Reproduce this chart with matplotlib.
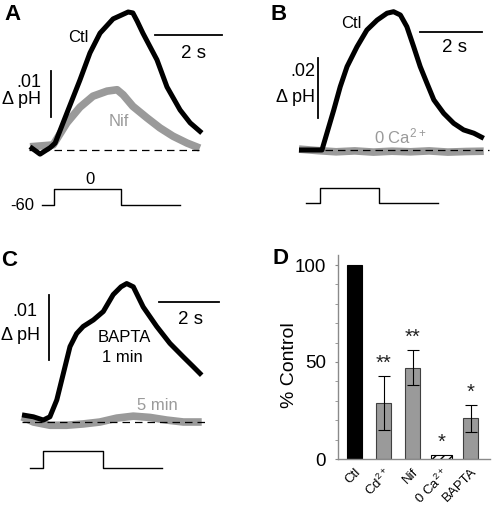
import numpy as np
import matplotlib
matplotlib.use('Agg')
import matplotlib.pyplot as plt

plt.rcParams['font.family'] = ['Liberation Sans', 'DejaVu Sans']
plt.rcParams['mathtext.fontset'] = 'custom'
plt.rcParams['mathtext.rm'] = 'Liberation Sans'
plt.rcParams['mathtext.default'] = 'regular'
plt.rcParams['hatch.linewidth'] = 1.0

# ---- data ----
# A: control vs nifedipine (time in s, delta pH)
a_ctl_t = [0, 0.30, 0.60, 0.75, 1.10, 1.49, 1.79, 2.09, 2.48, 2.75, 2.93, 3.07, 3.20, 3.37, 3.79,
           4.09, 4.48, 4.78, 5.13]
a_ctl = [0.0007, -0.0009, 0.0005, 0.0015, 0.0080, 0.0152, 0.0211, 0.0254, 0.0285, 0.0294, 0.0300,
         0.0298, 0.0280, 0.0254, 0.0196, 0.0137, 0.0087, 0.0059, 0.0037]
a_nif_t = [0, 0.69, 1.10, 1.49, 1.88, 2.30, 2.60, 2.78, 3.07, 3.49, 3.88, 4.27, 4.69, 5.07]
a_nif = [0.0007, 0.0011, 0.0059, 0.0093, 0.0117, 0.0128, 0.0131, 0.0120, 0.0095, 0.0070,
         0.0048, 0.0030, 0.0015, 0.0004]
a_step = [0.36, 0.72, 2.72, 4.48]   # start, depolarize, repolarize, end (s)

# B: control vs 0 Ca2+
b_ctl_t = [0, 0.74, 0.90, 1.12, 1.33, 1.55, 1.87, 2.19, 2.52, 2.84, 3.05, 3.27, 3.48, 3.70, 3.91,
           4.13, 4.35, 4.67, 4.99, 5.31, 5.64, 5.96]
b_ctl = [0, 0, 0.0056, 0.0133, 0.0211, 0.0278, 0.0344, 0.0400, 0.0433, 0.0456, 0.0461, 0.0450,
         0.0411, 0.0344, 0.0278, 0.0222, 0.0167, 0.0122, 0.0089, 0.0067, 0.0056, 0.0039]
b_ca0_t = [0, 0.6, 1.2, 1.8, 2.4, 3.0, 3.6, 4.2, 4.8, 5.4, 5.96]
b_ca0 = [0.0003, -0.0002, -0.0006, -0.0003, -0.0007, -0.0004, -0.0006, -0.0003, -0.0007, -0.0005, -0.0004]
b_step = [0.23, 0.68, 2.58, 4.48]

# C: BAPTA 1 min vs 5 min
c_1_t = [0, 0.38, 0.71, 0.93, 1.16, 1.38, 1.60, 1.82, 2.04, 2.38, 2.71, 3.04, 3.30, 3.49, 3.71,
         4.04, 4.49, 4.93, 5.38, 5.71, 5.99]
c_1 = [0.0011, 0.0008, 0.0003, 0.0008, 0.0034, 0.0075, 0.0116, 0.0136, 0.0147, 0.0157, 0.0170,
       0.0196, 0.0208, 0.0213, 0.0208, 0.0177, 0.0147, 0.0121, 0.0100, 0.0085, 0.0072]
c_5_t = [0, 0.38, 0.93, 1.49, 2.04, 2.60, 3.16, 3.71, 4.27, 4.82, 5.38, 5.99]
c_5 = [0.0008, 0.0, -0.0005, -0.0005, -0.0003, 0.0, 0.0006, 0.0009, 0.0007, 0.0003, 0.0, 0.0]
c_step = [0.27, 0.70, 2.70, 4.67]

hold_mv, test_mv = -60, 0

# D: summary, % of control
d_labels = ['Ctl', 'Cd$^{2+}$', 'Nif', '0 Ca$^{2+}$', 'BAPTA']
d_mean = [100, 29, 47, 2, 21]
d_err = [0, 14, 9, 0, 7]
d_stars = ['', '**', '**', '*', '*']

W, H = 494, 508
fig = plt.figure(figsize=(W / 100, H / 100), dpi=100)
GRAY = '#9a9a9a'


def trace_axes(box, t0_px, px_per_s, base_px, px_per_01, m60_px, zero_px):
    '''axes in pixel box; x in s, y in delta pH, twin y in mV'''
    l, t, r, b = box
    ax = fig.add_axes([l / W, 1 - b / H, (r - l) / W, (b - t) / H])
    ax.set_xlim((l - t0_px) / px_per_s, (r - t0_px) / px_per_s)
    ax.set_ylim((base_px - b) / px_per_01 * 0.01, (base_px - t) / px_per_01 * 0.01)
    ax.axis('off')
    axv = ax.twinx()
    k = 60 / (m60_px - zero_px)
    axv.set_ylim(-60 + (m60_px - b) * k, -60 + (m60_px - t) * k)
    axv.axis('off')
    return ax, axv


def step(axv, st):
    axv.plot([st[0], st[1], st[1], st[2], st[2], st[3]],
             [hold_mv, hold_mv, test_mv, test_mv, hold_mv, hold_mv], color='k', lw=1)


def label(x, y, s, **kw):
    kw.setdefault('ha', 'center')
    kw.setdefault('va', 'center')
    kw.setdefault('fontsize', 12)
    fig.text(x / W, 1 - y / H, s, **kw)


def scalebars(ax, x2s, y2s, xv, y0, y1):
    ax.plot([x2s, x2s + 2], [y2s, y2s], color='k', lw=1.3)
    ax.plot([xv, xv], [y0, y1], color='k', lw=1.3)


dash = dict(color='k', lw=0.9, linestyle=(0, (6, 4)), zorder=5)
tr_black = dict(color='k', lw=3.6, solid_capstyle='butt', solid_joinstyle='round')
tr_gray = dict(color=GRAY, lw=5.5, solid_capstyle='butt', solid_joinstyle='round')

# ---- A ----
ax, axv = trace_axes((0, 0, 247, 235), 30, 33.5, 150, 46, 205, 189)
ax.plot(a_nif_t, a_nif, **tr_gray)
ax.plot(a_ctl_t, a_ctl, **tr_black)
ax.plot([-0.03, 5.07], [0, 0], **dash)
scalebars(ax, 3.73, 0.025, 0.63, 0.0072, 0.0172)
step(axv, a_step)
label(12, 14, 'A', fontsize=16, fontweight='bold')
label(78, 38, 'Ctl')
label(119, 122, 'Nif', color=GRAY)
label(193, 53, '2 s', fontsize=13.5)
label(41, 83, '.01', ha='right', fontsize=13)
label(41, 100, '\u0394 pH', ha='right', fontsize=13)
label(34, 206, '-60', ha='right')
label(90, 180, '0')

# ---- B ----
ax, axv = trace_axes((247, 0, 494, 235), 299, 31, 150, 30, 203, 188)
ax.plot(b_ca0_t, b_ca0, **tr_gray)
ax.plot(b_ctl_t, b_ctl, **tr_black)
ax.plot([0.03, 6.13], [0, 0], **dash)
scalebars(ax, 3.9, 0.0394, 0.61, 0.0107, 0.0307)
step(axv, b_step)
label(279, 14, 'B', fontsize=16, fontweight='bold')
label(351, 23, 'Ctl')
label(454, 48, '2 s', fontsize=13.5)
label(315, 71, '.02', ha='right', fontsize=13)
label(315, 97, '\u0394 pH', ha='right', fontsize=13)
label(400, 136, '0 Ca$^{2+}$', color=GRAY)

# ---- C ----
ax, axv = trace_axes((0, 240, 247, 500), 22, 30, 422, 65, 468, 451)
ax.plot(c_5_t, c_5, **tr_gray)
ax.plot(c_1_t, c_1, **tr_black)
ax.plot([0, 6.1], [0, 0], **dash)
scalebars(ax, 4.57, 0.0185, 0.9, 0.0095, 0.0195)
step(axv, c_step)
label(9, 260, 'C', fontsize=16, fontweight='bold')
label(37, 312, '.01', ha='right', fontsize=13)
label(40, 335, '\u0394 pH', ha='right', fontsize=13)
label(190, 319, '2 s', fontsize=13.5)
label(124, 337, 'BAPTA')
label(122, 357, '1 min')
label(157, 405, '5 min', color=GRAY)

# ---- D ----
l, t, r, b = 338, 255, 490, 459
axd = fig.add_axes([l / W, 1 - b / H, (r - l) / W, (b - t) / H])
x = np.arange(len(d_labels))
px_per_cat = 29
axd.set_xlim((l - 354.5) / px_per_cat, (r - 354.5) / px_per_cat)
axd.set_ylim(0, 100 * (b - t) / (b - 265))
colors = ['k', GRAY, GRAY, 'white', GRAY]
edges = ['k', '#404040', '#404040', 'k', '#404040']
widths = [0.52, 0.5, 0.52, 0.69, 0.5]
bars = axd.bar(x, d_mean, width=widths, color=colors, edgecolor=edges, linewidth=0.8, zorder=2)
bars[3].set_hatch('////')
for i in range(len(x)):
    if d_err[i] > 0:
        axd.errorbar(x[i], d_mean[i], yerr=d_err[i], color='k', lw=0.8, capsize=4,
                     capthick=0.8, zorder=3)
    if d_stars[i]:
        axd.text(x[i], d_mean[i] + d_err[i] + 6.5, d_stars[i], ha='center', va='center',
                 fontsize=14.5, color='#222222')
for s in ['top', 'right']:
    axd.spines[s].set_visible(False)
for s in ['left', 'bottom']:
    axd.spines[s].set_color('#8a8a8a')
    axd.spines[s].set_linewidth(1)
axd.set_yticks([0, 50, 100])
axd.set_yticks(np.arange(0, 101, 10), minor=True)
axd.tick_params(axis='y', which='both', length=2.5, color='#8a8a8a', labelsize=13.5, pad=6)
axd.set_xticks(x)
axd.set_xticklabels(d_labels, rotation=45, ha='right', rotation_mode='anchor', fontsize=9.5)
axd.tick_params(axis='x', length=0, pad=5)
axd.set_ylabel('% Control', fontsize=14)
axd.yaxis.set_label_coords(-0.265, 0.46)
label(280, 258, 'D', fontsize=16, fontweight='bold')

fig.savefig('out.png', dpi=100)
